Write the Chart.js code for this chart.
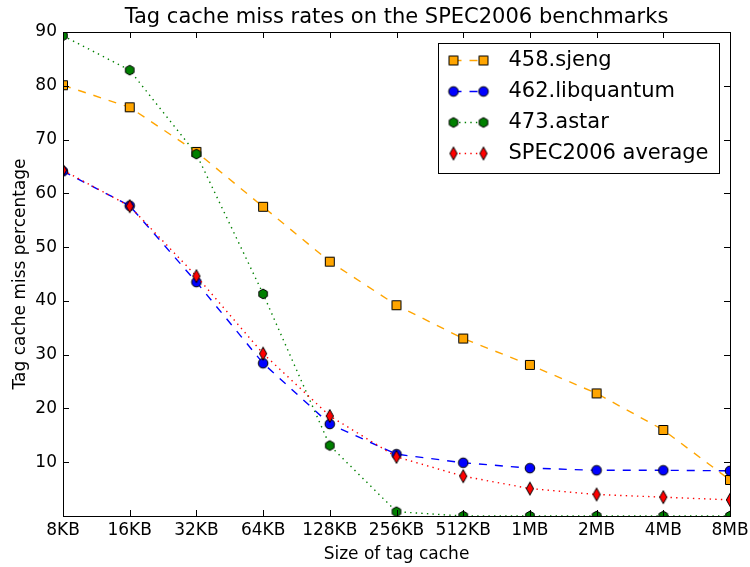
<!DOCTYPE html>
<html>
<head>
<meta charset="utf-8">
<script src="https://cdn.jsdelivr.net/npm/chart.js@4.4.0/dist/chart.umd.min.js"></script>
<style>
  body { margin: 0; background: #fff; }
  #wrap { width: 750px; height: 567px; }
</style>
</head>
<body>
<div id="wrap"><canvas id="tagChart" width="750" height="567"></canvas></div>
<script>
// values
const cacheSizes = ['8KB', '16KB', '32KB', '64KB', '128KB', '256KB', '512KB', '1MB', '2MB', '4MB', '8MB'];
const sjeng = [80.1, 76.0, 67.7, 57.5, 47.3, 39.2, 33.0, 28.1, 22.8, 16.0, 6.7];
const libquantum = [64.1, 57.7, 43.5, 28.4, 17.1, 11.5, 9.9, 8.9, 8.5, 8.5, 8.4];
const astar = [89.3, 82.9, 67.3, 41.3, 13.1, 0.8, 0, 0, 0, 0, 0];
const specAverage = [64.3, 57.6, 44.6, 30.2, 18.6, 11.0, 7.4, 5.1, 4.0, 3.5, 3.0];

const FONT = 'DejaVu Sans';

// small canvases used as point styles (matplotlib-like markers)
function makeMarker(shape, fill) {
    const c = document.createElement('canvas');
    c.width = 16;
    c.height = 16;
    const g = c.getContext('2d');
    g.fillStyle = fill;
    g.strokeStyle = '#000';
    g.lineWidth = 1;
    g.beginPath();
    if (shape === 'square') {
        g.rect(3.5, 3.5, 9, 9);
    } else if (shape === 'circle') {
        g.arc(8, 8, 4.8, 0, Math.PI * 2);
    } else if (shape === 'hexagon') {
        for (let k = 0; k < 6; k++) {
            const ang = Math.PI / 2 + k * Math.PI / 3;
            const px = 8 + 4.9 * Math.cos(ang), py = 8 - 4.9 * Math.sin(ang);
            if (k === 0) g.moveTo(px, py); else g.lineTo(px, py);
        }
        g.closePath();
    } else if (shape === 'diamond') {
        g.moveTo(8, 1.5);
        g.lineTo(11.6, 8);
        g.lineTo(8, 14.5);
        g.lineTo(4.4, 8);
        g.closePath();
    }
    g.fill();
    g.stroke();
    return c;
}

function series(label, values, color, dash, shape, order) {
    return {
        label: label,
        data: values,
        borderColor: color,
        borderWidth: 1.4,
        borderDash: dash,
        pointStyle: makeMarker(shape, color),
        pointRadius: 5,
        pointHoverRadius: 5,
        tension: 0,
        fill: false,
        clip: 0,
        order: order
    };
}

const datasets = [
    series('458.sjeng', sjeng, '#FFA500', [8, 8], 'square', 4),
    series('462.libquantum', libquantum, '#0000FF', [8, 8], 'circle', 3),
    series('473.astar', astar, '#008000', [1.4, 4.2], 'hexagon', 2),
    series('SPEC2006 average', specAverage, '#FF0000', [1.4, 4.2], 'diamond', 1)
];

// spines, inward ticks and the boxed legend
const framePlugin = {
    id: 'frame',
    afterDatasetsDraw(chart) {
        const { ctx, chartArea: a, scales: { x, y } } = chart;
        ctx.save();
        ctx.strokeStyle = '#000';
        ctx.lineWidth = 1;
        ctx.beginPath();
        x.ticks.forEach((t, i) => {
            const px = Math.round(x.getPixelForTick(i)) + 0.5;
            ctx.moveTo(px, a.bottom); ctx.lineTo(px, a.bottom - 6);
            ctx.moveTo(px, a.top); ctx.lineTo(px, a.top + 6);
        });
        y.ticks.forEach(t => {
            const py = Math.round(y.getPixelForValue(t.value)) + 0.5;
            ctx.moveTo(a.left, py); ctx.lineTo(a.left + 6, py);
            ctx.moveTo(a.right, py); ctx.lineTo(a.right - 6, py);
        });
        ctx.stroke();
        ctx.strokeRect(Math.round(a.left) + 0.5, Math.round(a.top) + 0.5,
            Math.round(a.right - a.left), Math.round(a.bottom - a.top));

        // legend
        const bx = Math.round(a.right) - 292 + 0.5, by = Math.round(a.top) + 11 + 0.5;
        const bw = 281, bh = 130;
        ctx.fillStyle = '#fff';
        ctx.fillRect(bx, by, bw, bh);
        ctx.strokeRect(bx, by, bw, bh);
        ctx.font = '21px "' + FONT + '"';
        ctx.textBaseline = 'middle';
        ctx.textAlign = 'left';
        chart.data.datasets.forEach((ds, i) => {
            const ry = by + 17 + i * 31;
            const x1 = bx + 15, x2 = bx + 45;
            ctx.save();
            ctx.strokeStyle = ds.borderColor;
            ctx.lineWidth = ds.borderWidth;
            ctx.setLineDash(ds.borderDash);
            ctx.beginPath();
            ctx.moveTo(x1, ry); ctx.lineTo(x2, ry);
            ctx.stroke();
            ctx.restore();
            const m = ds.pointStyle;
            ctx.drawImage(m, x1 - m.width / 2, ry - m.height / 2);
            ctx.drawImage(m, x2 - m.width / 2, ry - m.height / 2);
            ctx.fillStyle = '#000';
            ctx.fillText(ds.label, bx + 70, ry);
        });
        ctx.restore();
    }
};

const config = {
    type: 'line',
    data: {
        labels: cacheSizes,
        datasets: datasets
    },
    options: {
        responsive: false,
        animation: false,
        devicePixelRatio: 1,
        layout: { padding: { left: 0, right: 20, top: 0, bottom: 0 } },
        plugins: {
            legend: { display: false },
            tooltip: { enabled: false },
            title: {
                display: true,
                text: 'Tag cache miss rates on the SPEC2006 benchmarks',
                color: '#000',
                fullSize: false,
                font: { family: FONT, size: 21, weight: 'normal' },
                padding: { top: 5, bottom: 1.8 }
            }
        },
        scales: {
            x: {
                type: 'category',
                offset: false,
                grid: { display: false, drawTicks: false },
                border: { display: false },
                ticks: {
                    color: '#000',
                    font: { family: FONT, size: 17 },
                    padding: 4,
                    maxRotation: 0,
                    autoSkip: false
                },
                title: {
                    display: true,
                    text: 'Size of tag cache',
                    color: '#000',
                    font: { family: FONT, size: 17 },
                    padding: { top: 0, bottom: 2 }
                },
                afterFit: s => {
                    s.height = 51;
                    s.paddingLeft = 0;
                    s.paddingRight = 0;
                }
            },
            y: {
                min: 0,
                max: 90,
                grid: { display: false, drawTicks: false },
                border: { display: false },
                ticks: {
                    stepSize: 10,
                    color: '#000',
                    font: { family: FONT, size: 17 },
                    padding: 6,
                    callback: v => (v === 0 ? '' : v)
                },
                title: {
                    display: true,
                    text: 'Tag cache miss percentage',
                    color: '#000',
                    font: { family: FONT, size: 17 },
                    padding: { top: 10, bottom: 0 }
                },
                afterFit: s => { s.width = 63; }
            }
        }
    },
    plugins: [framePlugin]
};

new Chart(document.getElementById('tagChart').getContext('2d'), config);
</script>
</body>
</html>
